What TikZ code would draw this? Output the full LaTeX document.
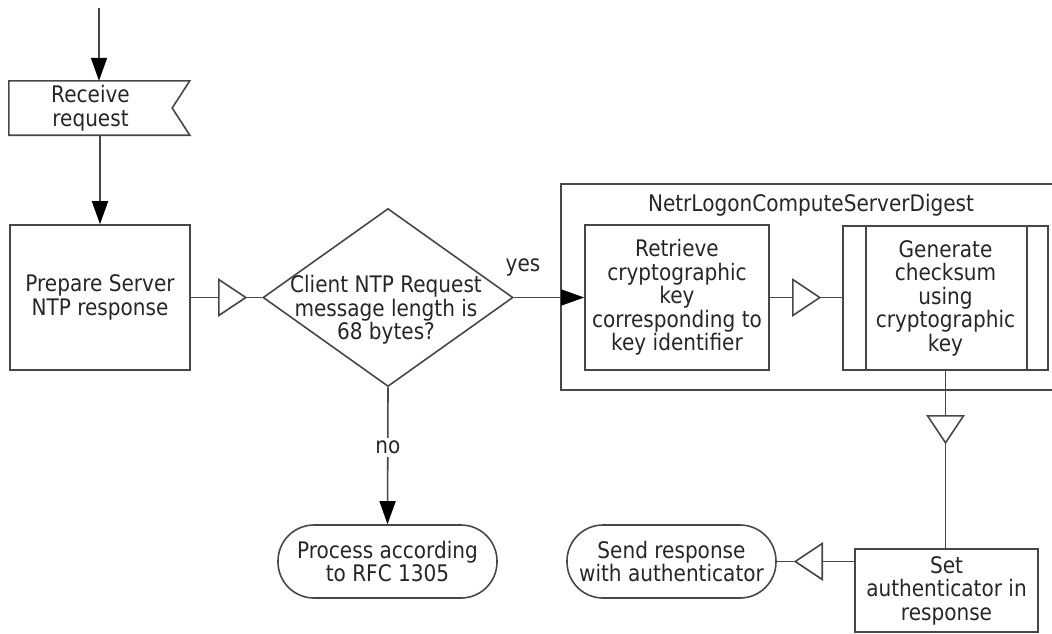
\documentclass[tikz,border=0pt]{standalone}
\usepackage{fontspec}
\newfontfamily\diagfont{DejaVu Sans}[FakeStretch=0.88]
\usetikzlibrary{shapes.geometric,arrows.meta,decorations.markings,calc}

\begin{document}
\begin{tikzpicture}[x=1pt,y=-1pt,
  every node/.style={font=\diagfont\fontsize{22.8}{23.5}\selectfont,
    text=black!85, align=center, inner sep=0pt},
  line/.style={draw=black!72, line width=1.6pt},
  arrow/.style={line, -{Triangle[length=23pt,width=16pt,color=black]}},
  midtri/.style={postaction={decorate, decoration={markings,
    mark=at position #1 with {\draw[draw=black!72, line width=1.6pt, fill=white]
      (-27pt,-18pt) -- (0pt,0pt) -- (-27pt,18pt) -- cycle;}}}},
  procbox/.style={line, rectangle, minimum width=#1},
  term/.style={line, rectangle, rounded corners=36pt, minimum height=73pt, minimum width=#1},
]
\useasboundingbox (0,0) rectangle (1052,633);

% entry and start event
\coordinate (in) at (99,8);
\node[minimum width=163pt, minimum height=54pt] (recv) at (90.5,108) {Receive\\request};
\draw[line] (recv.north west) -- ++(181,0) -- (recv.east)
  -- ($(recv.south west)+(181,0)$) -- (recv.south west) -- cycle;

% main flow
\node[procbox=180pt, minimum height=145pt] (prep) at (100,297.5) {Prepare Server\\NTP response};
\node[line, diamond, minimum width=250pt, minimum height=178pt] (dec) at (388,297.5) {};
\node (dect) at (386,310) {Client NTP Request\\message length is\\68 bytes?};

% digest computation group
\draw[line] (1052,184) -- (561,184) -- (561,390) -- (1052,390);
\node (title) at (811,205) {NetrLogonComputeServerDigest};
\node[procbox=184pt, minimum height=145pt] (retr) at (677,297.5)
  {Retrieve\\cryptographic\\key\\corresponding to\\key identifier};
\node[procbox=205pt, minimum height=144pt] (gen) at (945.5,298)
  {Generate\\checksum\\using\\cryptographic\\key};
\draw[line] ([xshift=23.5pt]gen.north west) -- ([xshift=23.5pt]gen.south west);
\draw[line] ([xshift=-22pt]gen.north east) -- ([xshift=-22pt]gen.south east);

\node[procbox=183pt, minimum height=83pt] (set) at (946.5,590.5) {Set\\authenticator in\\response};
\node[term=219pt] (proc) at (387.5,561.5) {Process according\\to RFC 1305};
\node[term=209pt] (send) at (671.5,561.5) {Send response\\with authenticator};

% connectors
\draw[arrow] (in) -- (in |- recv.north);
\draw[arrow] (prep.north |- recv.south) -- (prep.north);
\draw[line, midtri=55pt] (prep.east) -- (prep.east -| dec.west);
\draw[arrow] (dec.east) -- (dec.east -| retr.west);
\node (yes) at (523,267) {yes};
\draw[arrow] (dec.south) -- node[pos=0.44, fill=white, inner xsep=1pt, inner ysep=3pt] (no) {no} (proc.north);
\draw[line, midtri=50pt] (retr.east) -- (retr.east -| gen.west);
\draw[line, midtri=72pt] (gen.south) -- (gen.south |- set.north);
\draw[line, midtri=59pt] (set.west |- send.east) -- (send.east);
\end{tikzpicture}
\end{document}
